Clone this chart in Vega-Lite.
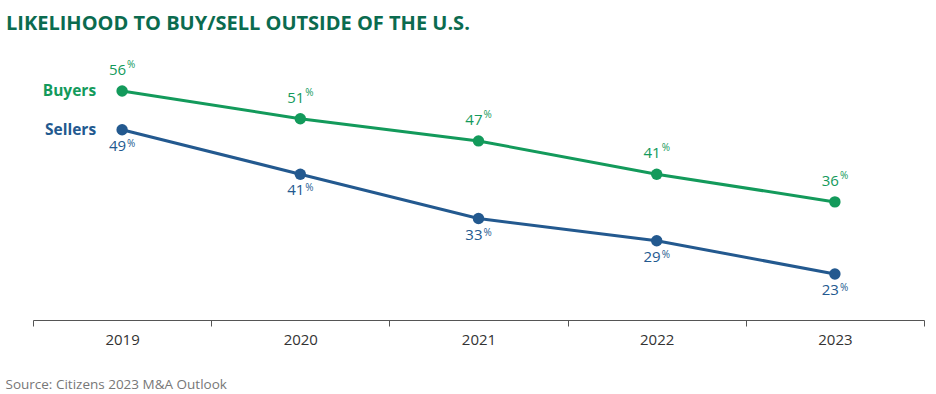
{
  "$schema": "https://vega.github.io/schema/vega-lite/v6.json",
  "width": 891,
  "height": 280,
  "autosize": "none",
  "padding": {"left": 33, "top": 40, "right": 12, "bottom": 74},
  "background": "white",
  "title": {
    "text": "LIKELIHOOD TO BUY/SELL OUTSIDE OF THE U.S.",
    "anchor": "start",
    "frame": "group",
    "offset": 6,
    "dx": -27,
    "font": "Open Sans",
    "fontSize": 20,
    "fontWeight": "bold",
    "color": "#0b6b4f"
  },
  "config": {"view": {"stroke": null}},
  "data": {
    "values": [
      {"year": "2019", "series": "Buyers", "value": 56},
      {"year": "2020", "series": "Buyers", "value": 51},
      {"year": "2021", "series": "Buyers", "value": 47},
      {"year": "2022", "series": "Buyers", "value": 41},
      {"year": "2023", "series": "Buyers", "value": 36},
      {"year": "2019", "series": "Sellers", "value": 49},
      {"year": "2020", "series": "Sellers", "value": 41},
      {"year": "2021", "series": "Sellers", "value": 33},
      {"year": "2022", "series": "Sellers", "value": 29},
      {"year": "2023", "series": "Sellers", "value": 23}
    ]
  },
  "encoding": {
    "x": {
      "field": "year",
      "type": "ordinal",
      "scale": {"type": "band", "paddingInner": 0, "paddingOuter": 0},
      "axis": {
        "orient": "bottom",
        "labelAngle": 0,
        "tickBand": "extent",
        "tickSize": 6,
        "tickColor": "#555555",
        "domainColor": "#555555",
        "labelFont": "Open Sans",
        "labelFontSize": 15,
        "labelColor": "#333333",
        "labelPadding": 6,
        "title": "Source: Citizens 2023 M&A Outlook",
        "titleFont": "Open Sans",
        "titleFontSize": 13.5,
        "titleFontWeight": "normal",
        "titleColor": "#777777",
        "titleAnchor": "start",
        "titleAlign": "left",
        "titleX": -28,
        "titleY": 57
      }
    },
    "y": {
      "field": "value",
      "type": "quantitative",
      "scale": {"domain": [14.7, 65.2], "nice": false, "zero": false},
      "axis": null
    },
    "color": {
      "field": "series",
      "type": "nominal",
      "scale": {"domain": ["Buyers", "Sellers"], "range": ["#139a5b", "#23598f"]},
      "legend": null
    }
  },
  "layer": [
    {"mark": {"type": "line", "strokeWidth": 3}},
    {"mark": {"type": "point", "filled": true, "size": 130, "opacity": 1}},
    {
      "transform": [{"filter": "datum.series === 'Buyers'"}],
      "mark": {"type": "text", "dy": -13, "dx": 4, "align": "right", "font": "Open Sans", "fontSize": 15, "baseline": "bottom"},
      "encoding": {"text": {"field": "value"}}
    },
    {
      "transform": [{"filter": "datum.series === 'Buyers'"}],
      "mark": {"type": "text", "dy": -21, "dx": 5, "align": "left", "font": "Open Sans", "fontSize": 10, "baseline": "bottom", "text": "%"}
    },
    {
      "transform": [{"filter": "datum.series === 'Sellers'"}],
      "mark": {"type": "text", "dy": 9, "dx": 4, "align": "right", "font": "Open Sans", "fontSize": 15, "baseline": "top"},
      "encoding": {"text": {"field": "value"}}
    },
    {
      "transform": [{"filter": "datum.series === 'Sellers'"}],
      "mark": {"type": "text", "dy": 9, "dx": 5, "align": "left", "font": "Open Sans", "fontSize": 10, "baseline": "top", "text": "%"}
    },
    {
      "transform": [{"filter": "datum.year === '2019'"}],
      "mark": {"type": "text", "align": "right", "dx": -26, "font": "Open Sans", "fontSize": 15.5, "fontWeight": "bold", "baseline": "middle"},
      "encoding": {"text": {"field": "series"}}
    }
  ]
}
